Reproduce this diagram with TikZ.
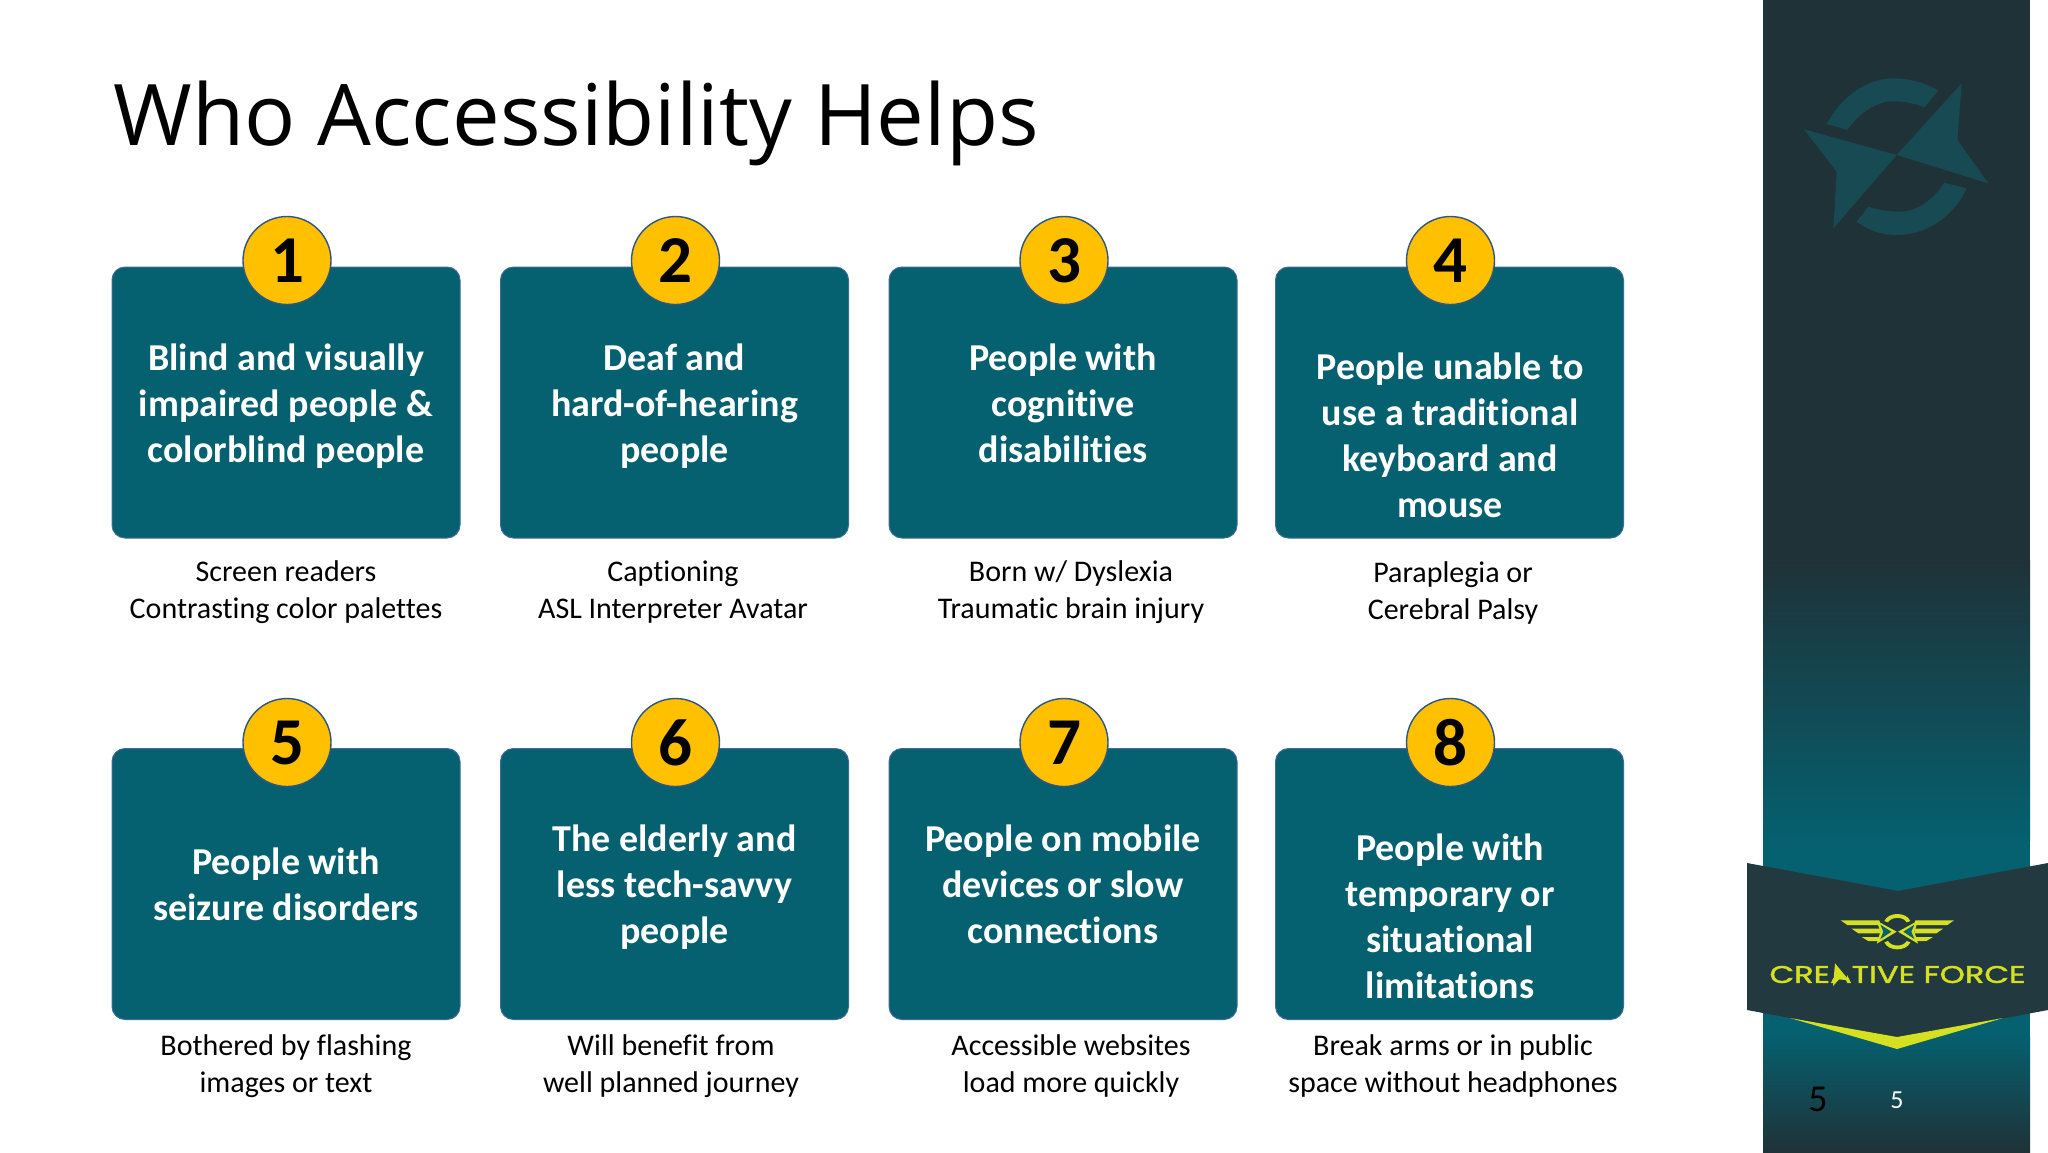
\documentclass[tikz,border=0pt]{standalone}
\usepackage{fontspec}
\setmainfont{Carlito}[Ligatures={NoCommon}]
\newfontfamily\titlefont{Open Sans}
\newfontfamily\logofont{Poppins}[FakeBold=1.5]
\definecolor{cardteal}{HTML}{05606F}
\definecolor{cardedge}{HTML}{3F6A9A}
\definecolor{badgeedge}{HTML}{2F5680}
\definecolor{badge}{HTML}{FFC000}
\definecolor{sidedark}{HTML}{1F3238}
\definecolor{bannerdark}{HTML}{21393F}
\definecolor{lime}{HTML}{D5E021}
\definecolor{markteal}{HTML}{174A52}
\newcommand{\digitbox}[1]{\raisebox{-1.8pt}{#1}}
\tikzset{
  card/.style={draw=cardedge,line width=0.5pt,fill=cardteal,rounded corners=6.5pt,minimum width=174pt,minimum height=135.5pt,inner sep=0pt},
  badgenode/.style={circle,draw=badgeedge,line width=0.7pt,fill=badge,minimum size=44pt,inner sep=0pt,font=\bfseries\fontsize{33.5}{33.5}\selectfont,text=black},
  cardtext/.style={align=center,text=white,font=\bfseries\fontsize{19}{23}\selectfont,inner sep=0pt},
  captiontext/.style={align=center,text=black,font=\fontsize{15}{18.5}\selectfont,inner sep=0pt},
  wingpart/.style={fill=lime},
}
\begin{document}
\begin{tikzpicture}[x=0.5pt,y=-0.5pt]
\useasboundingbox (0,0) rectangle (2048,1152);
\fill[white] (0,0) rectangle (2048,1152);
% sidebar
\fill[sidedark] (1763,0) rectangle (2030,560);
\shade[bottom color=cardteal,top color=sidedark] (1763,560) rectangle (2030,840);
\fill[cardteal] (1763,840) rectangle (2030,1035);
\shade[top color=cardteal,bottom color=sidedark] (1763,1035) rectangle (2030,1152);
% compass mark
\begin{scope}[shift={(1740,0)},x=0.16667pt,y=-0.16667pt]
\fill[markteal] (665,250) -- (652,420) -- (745,550) -- (470,465) -- cycle;
\fill[markteal] (192,388) -- (470,465) -- (280,685) -- (290,515) -- cycle;
\fill[markteal] (260,372) .. controls (310,280) and (390,235) .. (460,235) .. controls (510,235) and (560,250) .. (595,272) -- (553,322) .. controls (520,308) and (480,302) .. (440,305) .. controls (390,315) and (350,350) .. (322,390) -- cycle;
\fill[markteal] (350,665) .. controls (390,695) and (430,705) .. (470,705) .. controls (560,705) and (640,650) .. (680,565) -- (612,548) .. controls (580,600) and (530,635) .. (480,635) .. controls (445,635) and (415,630) .. (385,620) -- cycle;
\end{scope}
% banner
\fill[bannerdark] (1747,863) -- (1898,891) -- (2048,863) -- (2048,1010) -- (1898,1038) -- (1747,1010) -- cycle;
\fill[lime] (1790,1018) -- (1897,1037) -- (2003,1018) -- (1897,1049) -- cycle;
% logo emblem
\begin{scope}[shift={(1830,905)},x=0.16667pt,y=-0.16667pt]
\foreach \mir/\off in {1/0,-1/404}{
\begin{scope}[shift={(\off,0)},xscale=\mir]
\fill[wingpart] (32,46) -- (148,46) -- (152,60) -- (52,60) -- cycle;
\fill[wingpart] (65,71) -- (150,71) -- (150,85) -- (85,85) -- cycle;
\fill[wingpart] (95,96) -- (150,96) -- (150,108) -- (115,108) -- cycle;
\fill[wingpart] (140,47) -- (200,80) -- (140,116) -- (151,80) -- cycle;
\fill[cardteal] (151,59) -- (184,80) -- (151,102) -- (160,80) -- cycle;
\end{scope}}
\fill[wingpart] (163,48) .. controls (175,20) and (229,20) .. (241,48) -- (230,52) .. controls (220,34) and (184,34) .. (174,52) -- cycle;
\fill[wingpart] (163,112) .. controls (175,140) and (229,140) .. (241,112) -- (230,108) .. controls (220,126) and (184,126) .. (174,108) -- cycle;
\end{scope}
\node[inner sep=0pt,text=lime] (logotext) at (1897.5,974.5) {\resizebox{128pt}{8.5pt}{\logofont CREATIVE FORCE}};
\begin{scope}[shift={(1760,955)},x=0.16667pt,y=-0.16667pt]
\fill[bannerdark] (205,20) rectangle (262,70);
\fill[lime] (225,25) -- (268,77) -- (238,72) -- (219,93) -- cycle;
\end{scope}
% page numbers
\node[inner sep=0pt,text=black,font=\fontsize{19}{19}\selectfont] (pagedark) at (1818,1099) {5};
\node[inner sep=0pt,text=white,font=\fontsize{13}{13}\selectfont] (pagelight) at (1897,1100) {5};
% title
\node[anchor=west,inner sep=0pt,text=black,font=\titlefont\fontsize{42.5}{42.5}\selectfont] (title) at (113,123) {Who Accessibility Helps};
% cards
\node[card] (card1) at (286,402.5) {};
\node[card] (card2) at (674.5,402.5) {};
\node[card] (card3) at (1063,402.5) {};
\node[card] (card4) at (1449.5,402.5) {};
\node[card] (card5) at (286,884) {};
\node[card] (card6) at (674.5,884) {};
\node[card] (card7) at (1063,884) {};
\node[card] (card8) at (1449.5,884) {};
\node[badgenode] (b1) at (287,260.5) {\digitbox{1}};
\node[badgenode] (b2) at (675.5,260.5) {\digitbox{2}};
\node[badgenode] (b3) at (1064,260.5) {\digitbox{3}};
\node[badgenode] (b4) at (1450.5,260.5) {\digitbox{4}};
\node[badgenode] (b5) at (287,742.5) {\digitbox{5}};
\node[badgenode] (b6) at (675.5,742.5) {\digitbox{6}};
\node[badgenode] (b7) at (1064,742.5) {\digitbox{7}};
\node[badgenode] (b8) at (1450.5,742.5) {\digitbox{8}};
\node[cardtext] (t1) at (286,406) {Blind and visually\\impaired people \&\\colorblind people};
\node[cardtext] (t2) at (674.5,406) {Deaf and\\hard-of-hearing\\people};
\node[cardtext] (t3) at (1063,403.5) {People with\\cognitive\\disabilities};
\node[cardtext] (t4) at (1450,435.5) {People unable to\\use a traditional\\keyboard and\\mouse};
\node[cardtext] (t5) at (286,884.5) {People with\\seizure disorders};
\node[cardtext] (t6) at (674.5,887.5) {The elderly and\\less tech-savvy\\people};
\node[cardtext] (t7) at (1063,884.5) {People on mobile\\devices or slow\\connections};
\node[cardtext] (t8) at (1450,916.5) {People with\\temporary or\\situational\\limitations};
\node[captiontext] (c1) at (286,592.5) {Screen readers\\Contrasting color palettes};
\node[captiontext] (c2) at (673,592.5) {Captioning\\ASL Interpreter Avatar};
\node[captiontext] (c3) at (1071,592.5) {Born w/ Dyslexia\\Traumatic brain injury};
\node[captiontext] (c4) at (1453,592.5) {Paraplegia or\\Cerebral Palsy};
\node[captiontext] (c5) at (286,1066) {Bothered by flashing\\images or text};
\node[captiontext] (c6) at (671,1066) {Will benefit from\\well planned journey};
\node[captiontext] (c7) at (1071,1066) {Accessible websites\\load more quickly};
\node[captiontext] (c8) at (1453,1066) {Break arms or in public\\space without headphones};
\end{tikzpicture}
\end{document}
